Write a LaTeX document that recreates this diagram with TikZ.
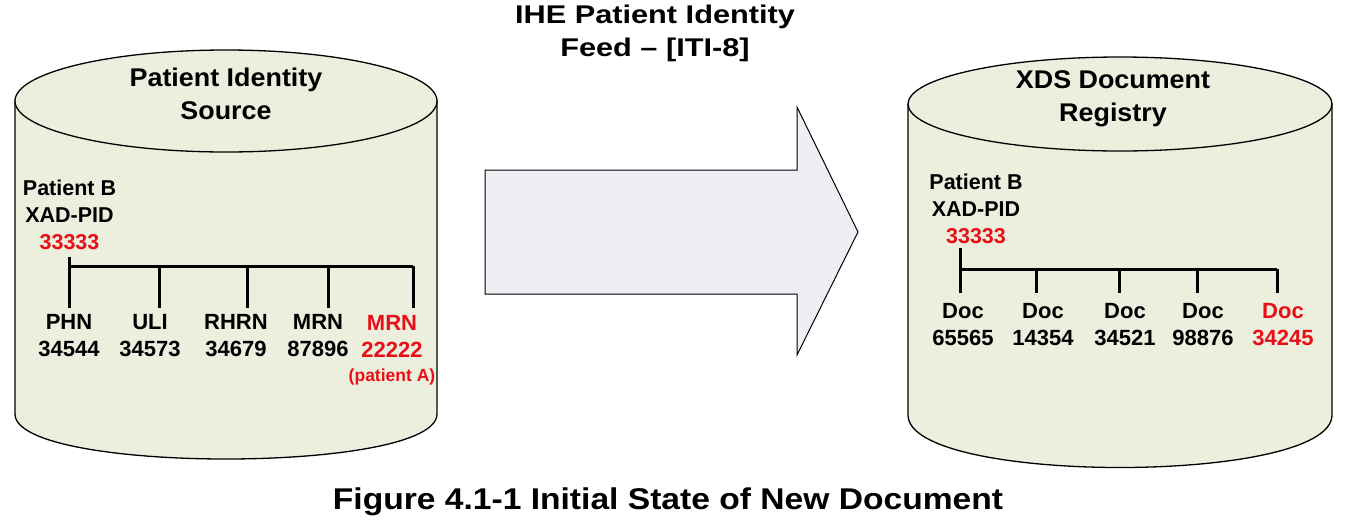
\documentclass[tikz,border=0pt]{standalone}
\usepackage{fontspec}
\setmainfont{Liberation Sans}
\newfontfamily\widefont[FakeStretch=1.2]{Liberation Sans}
\newfontfamily\headfont[FakeStretch=1.05]{Liberation Sans}
\newfontfamily\capfont[FakeStretch=1.12]{Liberation Sans}
\usetikzlibrary{positioning}
\definecolor{cylfill}{RGB}{236,239,222}
\definecolor{arrowfill}{RGB}{239,238,244}
\definecolor{idred}{RGB}{232,16,22}

\begin{document}
\begin{tikzpicture}
		[x=1pt,y=-1pt,
		cyl/.style ={draw=black, line width=1.3pt, fill=cylfill},
		tree/.style ={draw=black, line width=3pt},
		feedarrow/.style ={draw=black, line width=1pt, fill=arrowfill},
		title/.style ={font=\widefont\fontsize{25.6}{33}\selectfont\bfseries, align=center, inner sep=0pt},
		head/.style ={font=\headfont\fontsize{25.6}{33}\selectfont\bfseries, align=center, inner sep=0pt},
		idlabel/.style ={font=\fontsize{21.5}{27}\selectfont\bfseries, align=center, inner sep=0pt},
		leaf/.style ={font=\fontsize{22}{27}\selectfont\bfseries, align=center, inner sep=0pt},
		redleaf/.style ={leaf, text=idred},
		note/.style ={font=\fontsize{17.5}{20}\selectfont\bfseries, text=idred, inner sep=0pt},
		caption/.style ={font=\capfont\fontsize{30}{34}\selectfont\bfseries, inner sep=0pt},
		]

		\useasboundingbox (0,0) rectangle (1351,531);

		% the two databases
		\path[cyl] (15,101) -- (15,414) .. controls (15,474) and (437,474) .. (437,414) -- (437,101) -- cycle;
		\draw[cyl] (226,101) ellipse [x radius=211, y radius=51];
		\path[cyl] (908,104) -- (908,415) .. controls (908,485) and (1332,485) .. (1332,415) -- (1332,104) -- cycle;
		\draw[cyl] (1120,104) ellipse [x radius=212, y radius=47];

		% feed arrow
		\draw[feedarrow] (485,170) -- (797,170) -- (797,107) -- (858,232) -- (797,355) -- (797,294) -- (485,294) -- cycle;

		\draw (655,33.5) node[title] (feed) {IHE Patient Identity\\Feed \textendash{} [ITI-8]};
		\draw (226,93.5) node[head] (source) {Patient Identity\\Source};
		\draw (1113,98.5) node[head] (registry) {XDS Document\\Registry};

		% identity source
		\draw (69.5,215) node[idlabel] (pidL) {Patient B\\XAD-PID\\\textcolor{idred}{33333}};
		\draw (69,336) node[leaf] (phn) {PHN\\34544};
		\draw (150,336) node[leaf] (uli) {ULI\\34573};
		\draw (236,336) node[leaf] (rhrn) {RHRN\\34679};
		\draw (318,336) node[leaf] (mrn) {MRN\\87896};
		\draw (392,336) node[redleaf] (mrnA) {MRN\\22222};
		\draw (392,377) node[note] (ptA) {(patient A)};

		\coordinate (topL) at (69,257);
		\foreach \x [count=\i] in {69,159,247,328,413} {
			\coordinate (busL\i) at (\x,266);
			\coordinate (legL\i) at (\x,308);
		}
		\draw[tree] (topL) -- (legL1);
		\draw[tree] (busL1) -- (busL5);
		\foreach \i in {2,...,5} \draw[tree] (busL\i) -- (legL\i);

		% document registry
		\draw (976,208.5) node[idlabel] (pidR) {Patient B\\XAD-PID\\\textcolor{idred}{33333}};
		\draw (963,325) node[leaf] (doc1) {Doc\\65565};
		\draw (1043,325) node[leaf] (doc2) {Doc\\14354};
		\draw (1125,325) node[leaf] (doc3) {Doc\\34521};
		\draw (1203,325) node[leaf] (doc4) {Doc\\98876};
		\draw (1283,325) node[redleaf] (doc5) {Doc\\34245};

		\coordinate (topR) at (960,248);
		\foreach \x [count=\i] in {960,1036,1119,1197,1277} {
			\coordinate (busR\i) at (\x,269);
			\coordinate (legR\i) at (\x,293);
		}
		\draw[tree] (topR) -- (legR1);
		\draw[tree] (busR1) -- (busR5);
		\foreach \i in {2,...,5} \draw[tree] (busR\i) -- (legR\i);

		\draw (668,502) node[caption] (fig) {Figure 4.1-1 Initial State of New Document};

	\end{tikzpicture}
\end{document}
